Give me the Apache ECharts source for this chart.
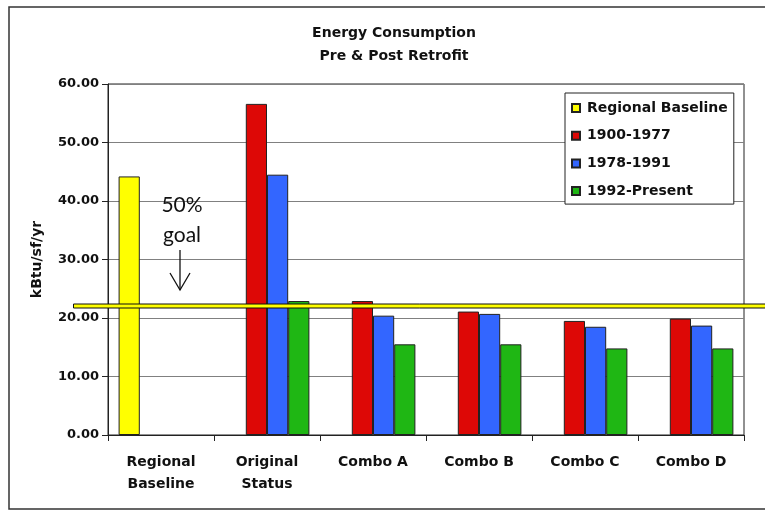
<!DOCTYPE html>
<html>
<head>
<meta charset="utf-8">
<style>
  html, body { margin: 0; padding: 0; background: #fff; }
  #chart { width: 765px; height: 512px; }
</style>
<script src="https://cdn.jsdelivr.net/npm/echarts@6/dist/echarts.min.js"></script>
</head>
<body>
<div id="chart"></div>
<script>
// Energy use intensity by building vintage, before and after retrofit packages
const categories = ['Regional\nBaseline', 'Original\nStatus', 'Combo A', 'Combo B', 'Combo C', 'Combo D'];
const seriesNames = ['Regional Baseline', '1900-1977', '1978-1991', '1992-Present'];
const regionalBaseline = [44.2, null, null, null, null, null];
const vintage1900to1977 = [null, 56.6, 22.9, 21.1, 19.5, 19.9];
const vintage1978to1991 = [null, 44.5, 20.4, 20.7, 18.5, 18.7];
const vintage1992toPresent = [null, 22.9, 15.5, 15.5, 14.8, 14.8];
const goalValue = 22.1;           // 50% reduction target
const yTicks = [0, 10, 20, 30, 40, 50, 60];

const FONT = 'DejaVu Sans';
const colors = ['#FFFF00', '#DD0806', '#3366FF', '#1FB714'];
const seriesData = [regionalBaseline, vintage1900to1977, vintage1978to1991, vintage1992toPresent];

const chart = echarts.init(document.getElementById('chart'), null, { renderer: 'canvas' });

const option = {
  animation: false,
  backgroundColor: '#fff',
  title: {
    text: 'Energy Consumption\nPre & Post Retrofit',
    left: 394,
    top: 22,
    padding: 0,
    textAlign: 'center',
    textStyle: { fontFamily: FONT, fontWeight: 'bold', fontSize: 14, lineHeight: 23, color: '#111' }
  },
  grid: {
    left: 108, right: 21, top: 84, bottom: 77,
    show: true, borderColor: '#222', borderWidth: 1, backgroundColor: 'transparent'
  },
  legend: {
    orient: 'vertical',
    left: 565, top: 93,
    backgroundColor: '#fff',
    borderColor: '#222', borderWidth: 1,
    padding: [8, 6, 6, 6],
    itemGap: 13.7,
    itemWidth: 8, itemHeight: 8,
    icon: 'rect',
    selectedMode: false,
    textStyle: { fontFamily: FONT, fontWeight: 'bold', fontSize: 14, lineHeight: 14, color: '#111', padding: [0, 0, 0, 2] },
    data: seriesNames
  },
  xAxis: {
    type: 'category',
    data: categories,
    axisLine: { lineStyle: { color: '#222', width: 1 } },
    axisTick: { show: true, length: 6, lineStyle: { color: '#222' } },
    axisLabel: { fontFamily: FONT, fontWeight: 'bold', fontSize: 14, lineHeight: 22, color: '#111', margin: 16, interval: 0 },
    splitLine: { show: false }
  },
  yAxis: {
    type: 'value',
    min: yTicks[0], max: yTicks[yTicks.length - 1], interval: yTicks[1] - yTicks[0],
    name: 'kBtu/sf/yr',
    nameLocation: 'middle',
    nameGap: 64,
    nameRotate: 90,
    nameTextStyle: { fontFamily: FONT, fontWeight: 'bold', fontSize: 14, color: '#111' },
    axisLine: { show: true, lineStyle: { color: '#222', width: 1 } },
    axisTick: { show: true, length: 6, lineStyle: { color: '#222' } },
    axisLabel: { fontFamily: FONT, fontWeight: 'bold', fontSize: 13, color: '#111', margin: 9,
      formatter: v => v.toFixed(2) },
    splitLine: { show: true, lineStyle: { color: '#808080', width: 1 } }
  },
  series: seriesNames.map((name, i) => ({
    name,
    type: 'bar',
    data: seriesData[i],
    barGap: '0%',
    barCategoryGap: '20%',
    itemStyle: { color: colors[i], borderColor: '#222', borderWidth: 1 }
  }))
};

chart.setOption(option);

// Goal line across the chart, plus the "50% goal" note with its arrow
const goalY = Math.round(chart.convertToPixel({ yAxisIndex: 0 }, goalValue));
chart.setOption({
  graphic: [
    {
      type: 'rect', z: 100,
      shape: { x: 9, y: 7, width: 820, height: 502 },
      style: { fill: 'none', stroke: '#333', lineWidth: 1.5 }
    },
    {
      type: 'rect', z: 110,
      shape: { x: 73.5, y: goalY - 2, width: 720, height: 4 },
      style: { fill: '#FFFF00', stroke: '#111', lineWidth: 1 }
    },
    {
      type: 'text', z: 110,
      style: { x: 182, y: 190, text: '50%\ngoal', fill: '#111', font: '21px Lato', lineHeight: 30, textAlign: 'center' }
    },
    {
      type: 'polyline', z: 110,
      shape: { points: [[180, 250], [180, 290]] },
      style: { stroke: '#111', lineWidth: 1.3, fill: 'none' }
    },
    {
      type: 'polyline', z: 110,
      shape: { points: [[170, 273], [180, 290], [190, 273]] },
      style: { stroke: '#111', lineWidth: 1.3, fill: 'none' }
    }
  ]
});
</script>
</body>
</html>
